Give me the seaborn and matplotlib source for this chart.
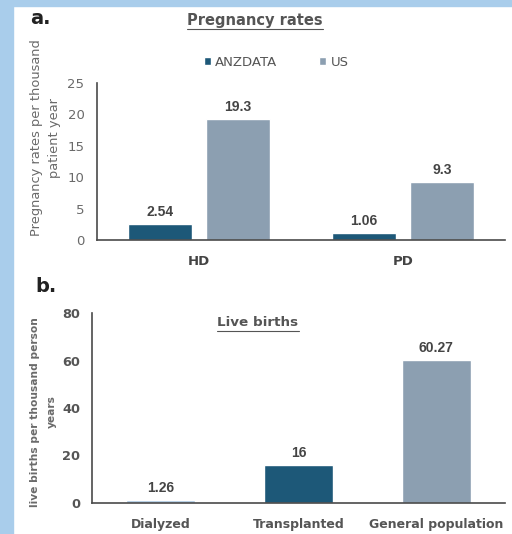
import matplotlib
matplotlib.use("Agg")
import matplotlib.pyplot as plt
from matplotlib.patches import Rectangle
from matplotlib.lines import Line2D
import pandas as pd
import seaborn as sns

# panel a
MODALITIES = ["HD", "PD"]
REGISTRIES = ["ANZDATA", "US"]
ANZDATA_RATES = [2.54, 1.06]
US_RATES = [19.3, 9.3]

# panel b
GROUPS = ["Dialyzed", "Transplanted", "General population"]
LIVE_BIRTHS = [1.26, 16, 60.27]

DARK = "#1d5878"
GREY_BLUE = "#8c9fb1"
LIGHT_BLUE = "#a9c6e0"
TEXT = "#555555"
VAL_FONT = ["Liberation Sans", "DejaVu Sans"]


def underline(fig, txt, color):
    fig.canvas.draw()
    bb = txt.get_window_extent().transformed(fig.transFigure.inverted())
    fig.add_artist(Line2D([bb.x0, bb.x1], [bb.y0 - 0.002, bb.y0 - 0.002],
                          transform=fig.transFigure, color=color, lw=0.8))


def main():
    sns.set_style("white")
    plt.rcParams["font.family"] = ["DejaVu Sans"]

    fig = plt.figure(figsize=(5.12, 5.34), dpi=100)
    fig.patch.set_facecolor("white")
    fig.add_artist(Rectangle((0, 0), 13 / 512, 1, transform=fig.transFigure,
                             color="#a9cdeb", zorder=-5))
    fig.add_artist(Rectangle((0, 1 - 6 / 534), 1, 6 / 534, transform=fig.transFigure,
                             color="#a9cdeb", zorder=-5))

    # ---- panel a ----
    df_a = pd.DataFrame({
        "Modality": MODALITIES * 2,
        "Registry": [REGISTRIES[0]] * 2 + [REGISTRIES[1]] * 2,
        "Rate": ANZDATA_RATES + US_RATES,
    })
    ax1 = fig.add_axes([97 / 512, 1 - 240 / 534, 408 / 512, 157 / 534])
    sns.barplot(data=df_a, x="Modality", y="Rate", hue="Registry",
                order=MODALITIES, hue_order=REGISTRIES,
                palette=[DARK, GREY_BLUE], width=0.76, gap=0.18,
                saturation=1, ax=ax1)
    ax1.set_ylim(0, 25)
    ax1.set_xlim(-0.5, 1.5)
    ax1.set_yticks([0, 5, 10, 15, 20, 25])
    ax1.tick_params(axis="y", labelsize=9.5, labelcolor="#6a6a6a", length=0, pad=9)
    ax1.tick_params(axis="x", labelsize=9.5, labelcolor="#444444", length=0, pad=11)
    for lab in ax1.get_xticklabels():
        lab.set_fontweight("bold")
    ax1.set_xlabel("")
    ax1.set_ylabel("Pregnancy rates per thousand\npatient year", fontsize=9.4,
                   color="#6a6a6a", linespacing=1.5)
    ax1.yaxis.set_label_coords(-0.088, 0.65)
    for c in ax1.containers:
        ax1.bar_label(c, labels=[f"{v:g}" for v in c.datavalues], padding=3.5,
                      fontsize=10, fontweight="bold", color="#444444",
                      family=VAL_FONT)
    sns.despine(ax=ax1)
    for s in ("left", "bottom"):
        ax1.spines[s].set_color("#4a4a4a")
        ax1.spines[s].set_linewidth(1.2)
    sns.move_legend(ax1, "center", bbox_to_anchor=(276 / 512, 1 - 62 / 534),
                    bbox_transform=fig.transFigure, ncols=2, frameon=False,
                    title=None, fontsize=9.5, handlelength=0.55, handleheight=0.55,
                    handletextpad=0.3, columnspacing=3.2)
    for t in ax1.get_legend().get_texts():
        t.set_color("#555555")

    fig.text(30 / 512, 1 - 18 / 534, "a.", fontsize=14, fontweight="bold",
             ha="left", va="center", color="#222222")
    t1 = fig.text(255 / 512, 1 - 20 / 534, "Pregnancy rates", fontsize=10.5,
                  fontweight="bold", ha="center", va="center", color=TEXT)

    # ---- panel b ----
    df_b = pd.DataFrame({"Group": GROUPS, "Births": LIVE_BIRTHS})
    ax2 = fig.add_axes([92 / 512, 1 - 503 / 534, 413 / 512, 190 / 534])
    sns.barplot(data=df_b, x="Group", y="Births", hue="Group", order=GROUPS,
                palette=[LIGHT_BLUE, DARK, GREY_BLUE], width=0.5,
                saturation=1, legend=False, ax=ax2)
    ax2.set_ylim(0, 80)
    ax2.set_xlim(-0.5, 2.5)
    ax2.set_yticks([0, 20, 40, 60, 80])
    ax2.tick_params(axis="y", labelsize=9.3, labelcolor=TEXT, length=0, pad=8.6)
    ax2.tick_params(axis="x", labelsize=9, labelcolor=TEXT, length=0, pad=11)
    for lab in ax2.get_xticklabels() + ax2.get_yticklabels():
        lab.set_fontweight("bold")
    ax2.set_xlabel("")
    ax2.set_ylabel("live births per thousand person\nyears", fontsize=7.7,
                   color="#6a6a6a", fontweight="bold", linespacing=1.8)
    ax2.yaxis.set_label_coords(-0.085, 0.48)
    for c in ax2.containers:
        ax2.bar_label(c, labels=[f"{v:g}" for v in c.datavalues], padding=3.5,
                      fontsize=10, fontweight="bold", color="#444444",
                      family=VAL_FONT)
    sns.despine(ax=ax2)
    for s in ("left", "bottom"):
        ax2.spines[s].set_color("#4a4a4a")
        ax2.spines[s].set_linewidth(1.2)

    fig.text(35 / 512, 1 - 287 / 534, "b.", fontsize=14, fontweight="bold",
             ha="left", va="center", color="#222222")
    t2 = fig.text(258 / 512, 1 - 323 / 534, "Live births", fontsize=9.7,
                  fontweight="bold", ha="center", va="center", color=TEXT)

    underline(fig, t1, TEXT)
    underline(fig, t2, TEXT)

    fig.savefig("out.png", dpi=100, facecolor="white")


if __name__ == "__main__":
    main()
